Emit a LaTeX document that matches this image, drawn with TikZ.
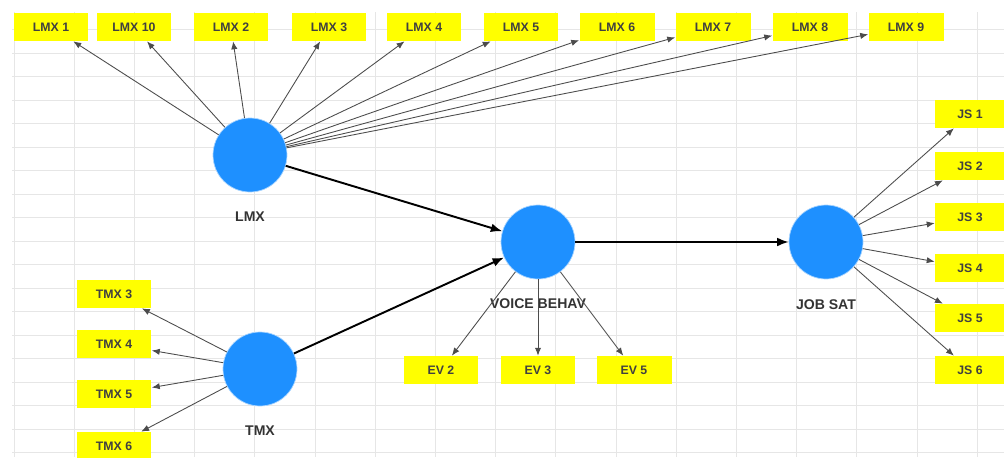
\documentclass[tikz,border=0pt]{standalone}
\usepackage{fontspec}
\setmainfont{Liberation Sans}
\usetikzlibrary{arrows.meta,positioning}
\definecolor{latentblue}{RGB}{30,144,255}
\definecolor{itemyellow}{RGB}{255,255,0}
\definecolor{cellgrid}{RGB}{230,230,230}

\begin{document}
\begin{tikzpicture}[
	x=0.02cm,
	y=-0.02cm,
	font=\fontsize{7}{8}\selectfont,
		latent/.style={
			circle,
			fill=latentblue,
			draw=latentblue!40,
			line width=0.4pt,
			minimum size=1.48cm,
			inner sep=0pt
		},
		item/.style={
			rectangle,
			fill=itemyellow,
			text=black!75,
			font=\fontsize{7}{8}\selectfont\bfseries,
			minimum width=1.5cm,
			minimum height=0.56cm,
			inner sep=0pt
		},
		latentlabel/.style={
			inner sep=0pt,
			text=black!80,
			font=\fontsize{8}{9}\selectfont\bfseries
		},
		loading/.style={
			-{Latex[length=4.5pt,width=3.6pt]},
			draw=black!70,
			line width=0.5pt
		},
		relation/.style={
			-{Latex[length=6.5pt,width=5pt]},
			line width=1.1pt
		},
		cell/.style={
			draw=cellgrid,
			line width=0.4pt
		}
	]
	\useasboundingbox (0,0) rectangle (1004,457);
	\clip (0,0) rectangle (1004,457);
	% Sheet grid
	\foreach \gx in {0,...,16}
		\draw[cell] (14+60.2*\gx,12) -- (14+60.2*\gx,457);
	\foreach \gy in {1,...,19}
		\draw[cell] (12,6+23.5*\gy) -- (1004,6+23.5*\gy);

	% Latent variables
	\node[latent] (lmx) at (250,155) {};
	\node[latent] (tmx) at (260,369) {};
	\node[latent] (voice) at (538,242) {};
	\node[latent] (jobsat) at (826,242) {};
	\node[latentlabel, below=0.39cm of lmx] (lmx_label) {LMX};
	\node[latentlabel, below=0.39cm of tmx] (tmx_label) {TMX};
	\node[latentlabel, below=0.38cm of voice] (voice_label) {VOICE BEHAV};
	\node[latentlabel, below=0.39cm of jobsat] (jobsat_label) {JOB SAT};

	% LMX items
	\node[item] (lmx1) at (51,27) {LMX 1};
	\node[item] (lmx10) at (134,27) {LMX 10};
	\node[item] (lmx2) at (231,27) {LMX 2};
	\node[item] (lmx3) at (329,27) {LMX 3};
	\node[item] (lmx4) at (424,27) {LMX 4};
	\node[item] (lmx5) at (521,27) {LMX 5};
	\node[item] (lmx6) at (617,27) {LMX 6};
	\node[item] (lmx7) at (713,27) {LMX 7};
	\node[item] (lmx8) at (810,27) {LMX 8};
	\node[item] (lmx9) at (906,27) {LMX 9};

	% TMX items
	\node[item] (tmx3) at (114,294) {TMX 3};
	\node[item] (tmx4) at (114,344) {TMX 4};
	\node[item] (tmx5) at (114,394) {TMX 5};
	\node[item] (tmx6) at (114,446) {TMX 6};

	% Voice items
	\node[item] (ev2) at (441,370) {EV 2};
	\node[item] (ev3) at (538,370) {EV 3};
	\node[item] (ev5) at (634,370) {EV 5};

	% Job satisfaction items
	\node[item, minimum width=1.4cm] (js1) at (970,114) {JS 1};
	\node[item, minimum width=1.4cm] (js2) at (970,166) {JS 2};
	\node[item, minimum width=1.4cm] (js3) at (970,217) {JS 3};
	\node[item, minimum width=1.4cm] (js4) at (970,268) {JS 4};
	\node[item, minimum width=1.4cm] (js5) at (970,318) {JS 5};
	\node[item, minimum width=1.4cm] (js6) at (970,370) {JS 6};

	% Loadings
	\draw[loading] (lmx) -- (lmx1);
	\draw[loading] (lmx) -- (lmx10);
	\draw[loading] (lmx) -- (lmx2);
	\draw[loading] (lmx) -- (lmx3);
	\draw[loading] (lmx) -- (lmx4);
	\draw[loading] (lmx) -- (lmx5);
	\draw[loading] (lmx) -- (lmx6);
	\draw[loading] (lmx) -- (lmx7);
	\draw[loading] (lmx) -- (lmx8);
	\draw[loading] (lmx) -- (lmx9);
	\draw[loading] (tmx) -- (tmx3);
	\draw[loading] (tmx) -- (tmx4);
	\draw[loading] (tmx) -- (tmx5);
	\draw[loading] (tmx) -- (tmx6);
	\draw[loading] (voice) -- (ev2);
	\draw[loading] (voice) -- (ev3);
	\draw[loading] (voice) -- (ev5);
	\draw[loading] (jobsat) -- (js1);
	\draw[loading] (jobsat) -- (js2);
	\draw[loading] (jobsat) -- (js3);
	\draw[loading] (jobsat) -- (js4);
	\draw[loading] (jobsat) -- (js5);
	\draw[loading] (jobsat) -- (js6);

	% Structural paths
	\draw[relation] (lmx) -- (voice);
	\draw[relation] (tmx) -- (voice);
	\draw[relation] (voice) -- (jobsat);
\end{tikzpicture}
\end{document}
